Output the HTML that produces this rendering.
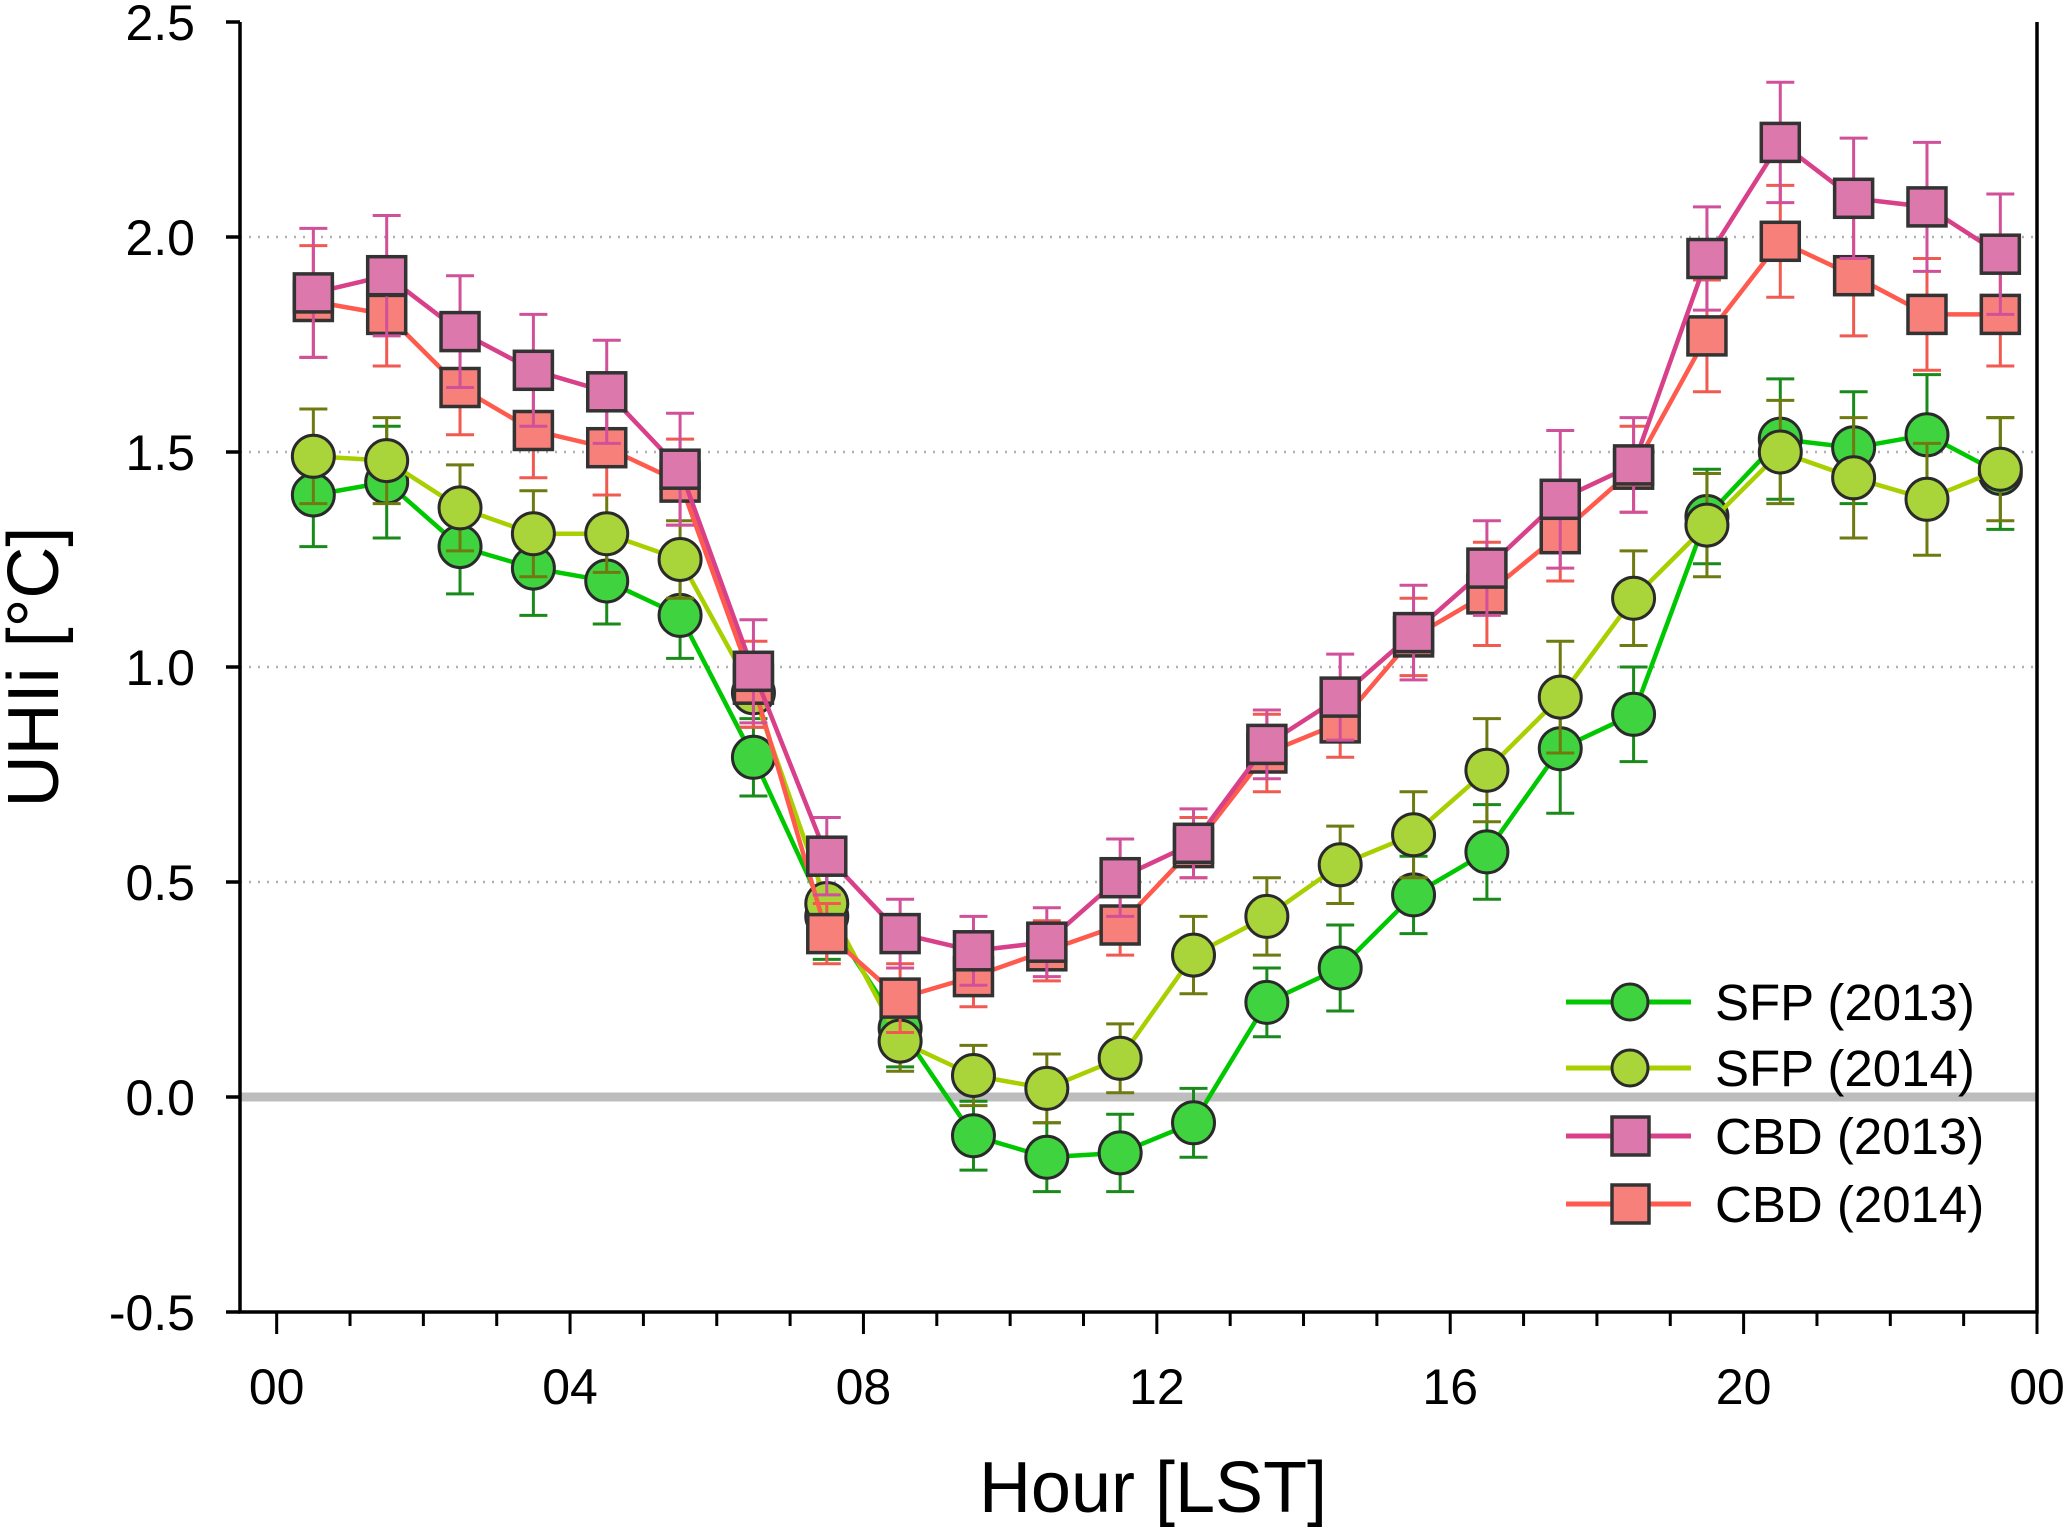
<!DOCTYPE html>
<html><head><meta charset="utf-8"><style>
html,body{margin:0;padding:0;background:#fff;}
svg{display:block;font-family:"Liberation Sans",Arial,sans-serif;}
</style></head><body>
<svg id="chart" width="2067" height="1529" viewBox="0 0 2067 1529" xmlns="http://www.w3.org/2000/svg"></svg>
<script>
const hours=[0.5,1.5,2.5,3.5,4.5,5.5,6.5,7.5,8.5,9.5,10.5,11.5,12.5,13.5,14.5,15.5,16.5,17.5,18.5,19.5,20.5,21.5,22.5,23.5];
const sfp2013=[1.40,1.43,1.28,1.23,1.20,1.12,0.79,0.42,0.16,-0.09,-0.14,-0.13,-0.06,0.22,0.30,0.47,0.57,0.81,0.89,1.35,1.53,1.51,1.54,1.45];
const sfp2014=[1.49,1.48,1.37,1.31,1.31,1.25,0.94,0.45,0.13,0.05,0.02,0.09,0.33,0.42,0.54,0.61,0.76,0.93,1.16,1.33,1.50,1.44,1.39,1.46];
const cbd2013=[1.87,1.91,1.78,1.69,1.64,1.46,0.99,0.56,0.38,0.34,0.36,0.51,0.59,0.82,0.93,1.08,1.23,1.39,1.47,1.95,2.22,2.09,2.07,1.96];
const cbd2014=[1.85,1.82,1.65,1.55,1.51,1.43,0.96,0.38,0.23,0.28,0.34,0.40,0.58,0.80,0.87,1.07,1.17,1.31,1.46,1.77,1.99,1.91,1.82,1.82];
const errSfp2013=[0.12,0.13,0.11,0.11,0.10,0.10,0.09,0.10,0.09,0.08,0.08,0.09,0.08,0.08,0.10,0.09,0.11,0.15,0.11,0.11,0.14,0.13,0.14,0.13];
const errSfp2014=[0.11,0.10,0.10,0.10,0.09,0.09,0.08,0.08,0.07,0.07,0.08,0.08,0.09,0.09,0.09,0.10,0.12,0.13,0.11,0.12,0.12,0.14,0.13,0.12];
const errCbd2013=[0.15,0.14,0.13,0.13,0.12,0.13,0.12,0.09,0.08,0.08,0.08,0.09,0.08,0.08,0.10,0.11,0.11,0.16,0.11,0.12,0.14,0.14,0.15,0.14];
const errCbd2014=[0.13,0.12,0.11,0.11,0.11,0.10,0.10,0.07,0.08,0.07,0.07,0.07,0.07,0.09,0.08,0.09,0.12,0.11,0.10,0.13,0.13,0.14,0.13,0.12];
const yTicks=[-0.5,0.0,0.5,1.0,1.5,2.0,2.5];
const yTickLabels=["-0.5","0.0","0.5","1.0","1.5","2.0","2.5"];
const xTicks=[0,4,8,12,16,20,24];
const xTickLabels=["00","04","08","12","16","20","00"];

const L=240,R=2037,T=22,B=1312;
const xMin=-0.5,xMax=24,yMin=-0.5,yMax=2.5;
const X=h=>L+(h-xMin)/(xMax-xMin)*(R-L);
const Y=v=>B-(v-yMin)/(yMax-yMin)*(B-T);
const svg=document.getElementById('chart');
const NS='http://www.w3.org/2000/svg';
function mk(tag,attrs,parent){const e=document.createElementNS(NS,tag);for(const k in attrs)e.setAttribute(k,attrs[k]);(parent||svg).appendChild(e);return e;}

[0.5,1.0,1.5,2.0].forEach(v=>{
  const g=mk('line',{x1:L,x2:R,y1:Y(v),y2:Y(v),stroke:'#b0b0b0','stroke-width':2.5,'stroke-dasharray':'2,7'});
  
  
});
const z=mk('line',{x1:L,x2:R,y1:Y(0),y2:Y(0),stroke:'#bdbdbd','stroke-width':9});



const ax=mk('path',{d:`M${L},${T} V${B} H${R} V${T}`,fill:'none',stroke:'#000','stroke-width':3.5});


yTicks.forEach((v,i)=>{
  mk('line',{x1:L-14,x2:L,y1:Y(v),y2:Y(v),stroke:'#000','stroke-width':3.5});
  const t=mk('text',{x:L-45,y:Y(v)+18,'text-anchor':'end','font-size':50});
  t.textContent=yTickLabels[i];
  
  
});
for(let h=0;h<=24;h++){
  const major=h%4===0;
  mk('line',{x1:X(h),x2:X(h),y1:B,y2:B+(major?22:14),stroke:'#000','stroke-width':3});
}
xTicks.forEach((h,i)=>{
  const t=mk('text',{x:X(h),y:B+92,'text-anchor':'middle','font-size':50});
  t.textContent=xTickLabels[i];
  
  
});
const xt=mk('text',{x:1153,y:1512,'text-anchor':'middle','font-size':72});
xt.textContent='Hour [LST]';


const yt=mk('text',{x:0,y:0,'text-anchor':'middle','font-size':72,transform:`translate(58,${Y(1.0)}) rotate(-90)`});
yt.textContent='UHIi [°C]';



const series=[
 {name:'sfp-2013',vals:sfp2013,err:errSfp2013,line:'#00c800',fill:'#3fd43f',errc:'#1a8a1a',shape:'circle'},
 {name:'sfp-2014',vals:sfp2014,err:errSfp2014,line:'#a8d000',fill:'#a9d43a',errc:'#6f7a10',shape:'circle'},
 {name:'cbd-2014',vals:cbd2014,err:errCbd2014,line:'#ff5a4e',fill:'#f8807a',errc:'#f05a50',shape:'square'},
 {name:'cbd-2013',vals:cbd2013,err:errCbd2013,line:'#d8408a',fill:'#dc78ac',errc:'#d0509a',shape:'square'}
];
series.forEach(s=>{
  const g=mk('g',{});
  
  
  hours.forEach((h,i)=>{
    const x=X(h),y1=Y(s.vals[i]+s.err[i]),y2=Y(s.vals[i]-s.err[i]);
    const e=mk('path',{d:`M${x},${y1}V${y2}M${x-14},${y1}H${x+14}M${x-14},${y2}H${x+14}`,stroke:s.errc,'stroke-width':3,fill:'none'},g);
    
    
  });
  const pts=hours.map((h,i)=>X(h)+','+Y(s.vals[i])).join(' ');
  const pl=mk('polyline',{points:pts,fill:'none',stroke:s.line,'stroke-width':4.5},g);
  
  
  hours.forEach((h,i)=>{
    const x=X(h),y=Y(s.vals[i]);
    let m;
    if(s.shape==='circle') m=mk('circle',{cx:x,cy:y,r:21,fill:s.fill,stroke:'#2a2a2a','stroke-width':3},g);
    else m=mk('rect',{x:x-19,y:y-19,width:38,height:38,fill:s.fill,stroke:'#333','stroke-width':3.5},g);
    
    
  });
});

const leg=[['SFP (2013)',series[0],1002],['SFP (2014)',series[1],1068],['CBD (2013)',series[3],1136],['CBD (2014)',series[2],1204]];
const lg=mk('g',{});


leg.forEach(([lab,s,y])=>{
  const e=mk('g',{},lg);
  
  
  mk('line',{x1:1566,x2:1691,y1:y,y2:y,stroke:s.line,'stroke-width':5},e);
  if(s.shape==='circle') mk('circle',{cx:1630,cy:y,r:18,fill:s.fill,stroke:'#2a2a2a','stroke-width':3},e);
  else mk('rect',{x:1612,y:y-19,width:37,height:38,fill:s.fill,stroke:'#333','stroke-width':3.5},e);
  const t=mk('text',{x:1715,y:y+18,'font-size':51},e);
  t.textContent=lab;
});
</script>
</body></html>
